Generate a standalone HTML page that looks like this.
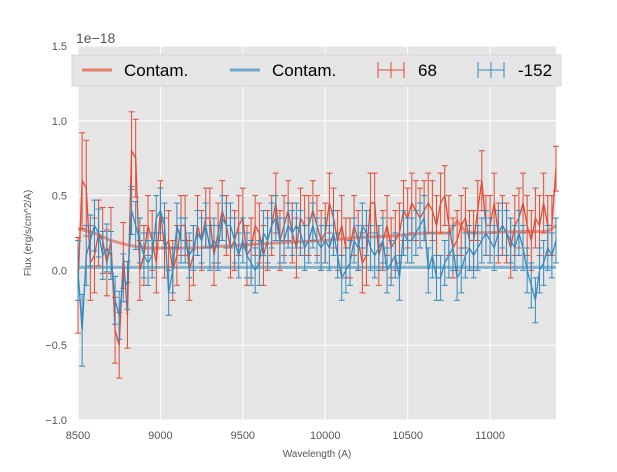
<!DOCTYPE html>
<html><head><meta charset="utf-8"><style>
body{margin:0;background:#fff;font-family:"Liberation Sans",sans-serif}
svg text{font-family:"Liberation Sans",sans-serif}
</style></head><body>
<svg id="chart" width="617" height="467">
<rect x="78" y="46" width="478" height="374" fill="#e5e5e5"/>
<g id="grid"></g><g id="marks"></g><g id="axes"></g>
<text x="76" y="43" font-size="14" fill="#555">1e−18</text>
<text transform="translate(31,233) rotate(-90)" text-anchor="middle" font-size="10" fill="#555">Flux (erg/s/cm^2/A)</text>
<text x="317" y="457" text-anchor="middle" font-size="10" fill="#555">Wavelength (A)</text>
<g>
<rect x="72" y="55" width="489" height="31" fill="#e5e5e5" stroke="#d8d8d8"/>
<g><line x1="82" y1="70" x2="112" y2="70" stroke="#e8806c" stroke-width="3"/><text x="124" y="76" font-size="17">Contam.</text></g>
<g><line x1="230" y1="70" x2="260" y2="70" stroke="#6fa8cf" stroke-width="3"/><text x="272" y="76" font-size="17">Contam.</text></g>
<g stroke="#e24a33" fill="none"><line x1="378" y1="70" x2="404" y2="70"/><line x1="391" y1="62" x2="391" y2="78"/><line x1="378" y1="62" x2="378" y2="78"/><line x1="404" y1="62" x2="404" y2="78"/><text x="418" y="76" font-size="17" fill="#000" stroke="none">68</text></g>
<g stroke="#348abd" fill="none"><line x1="478" y1="70" x2="504" y2="70"/><line x1="491" y1="62" x2="491" y2="78"/><line x1="478" y1="62" x2="478" y2="78"/><line x1="504" y1="62" x2="504" y2="78"/><text x="518" y="76" font-size="17" fill="#000" stroke="none">-152</text></g>
</g>
</svg>
<script>
const waveStart=8500;
const waveStep=25;
const red=[-0.1,0.6,0.55,0.05,0.1,0.25,0.2,0.05,0.2,-0.4,
-0.5,0.1,-0.3,0.8,0.75,0.0,0.1,0.3,0.2,0.05,
0.4,0.15,0.2,0.0,0.1,0.3,0.3,0.0,0.1,0.3,
0.2,0.35,0.35,0.1,0.25,0.4,0.3,0.15,0.2,0.3,
0.35,0.1,0.15,0.3,0.25,0.1,0.2,0.3,0.45,0.2,
0.3,0.4,0.25,0.15,0.35,0.3,0.3,0.4,0.3,0.2,
0.25,0.45,0.35,0.2,0.3,0.15,0.15,0.3,0.2,0.05,
0.1,0.45,0.45,0.1,0.2,0.3,0.15,0.2,0.25,0.4,
0.35,0.45,0.4,0.35,0.4,0.45,0.4,0.3,0.45,0.5,
0.3,0.15,0.2,0.3,0.35,0.2,0.2,0.4,0.6,0.3,
0.3,0.45,0.25,0.3,0.25,0.15,0.3,0.35,0.45,0.3,
0.2,0.35,0.3,0.45,0.3,0.3,0.68];
const blue=[0.0,-0.4,0.1,0.2,0.3,0.25,0.1,0.15,0.1,-0.2,
-0.3,-0.05,-0.1,0.4,0.3,0.2,0.1,0.05,0.1,0.35,
0.4,0.3,-0.15,0.0,0.3,0.2,0.2,0.1,0.15,0.25,
0.2,0.3,0.15,0.2,0.15,0.35,0.3,0.3,0.2,0.1,
0.2,0.1,0.05,0.0,0.05,0.25,0.2,0.3,0.35,0.2,
0.2,0.3,0.25,0.3,0.25,0.15,0.2,0.3,0.2,0.15,
0.2,0.15,0.25,0.1,-0.05,0.0,0.05,0.2,0.15,0.3,
0.25,0.15,0.1,0.15,0.2,0.0,0.05,0.1,-0.05,0.25,
0.2,0.2,0.25,0.3,0.35,0.0,0.1,-0.05,-0.05,0.05,
0.1,0.15,-0.05,0.0,0.1,0.15,0.1,0.15,0.2,0.25,
0.2,0.15,0.25,0.3,0.25,0.2,0.15,0.25,0.15,0.0,
-0.1,-0.2,0.0,0.05,0.15,0.1,0.2];
const redErr=[0.32,0.32,0.32,0.25,0.25,0.22,0.22,0.22,0.22,0.22,
0.22,0.22,0.22,0.26,0.26,0.2,0.2,0.2,0.2,0.2,
0.2,0.2,0.2,0.2,0.2,0.2,0.2,0.2,0.2,0.2,
0.2,0.2,0.2,0.2,0.2,0.2,0.2,0.2,0.2,0.2,
0.2,0.2,0.2,0.2,0.2,0.2,0.2,0.2,0.2,0.2,
0.2,0.2,0.2,0.2,0.2,0.2,0.2,0.2,0.2,0.2,
0.2,0.2,0.2,0.2,0.2,0.2,0.2,0.2,0.2,0.2,
0.2,0.2,0.2,0.2,0.2,0.2,0.2,0.2,0.2,0.2,
0.2,0.2,0.2,0.2,0.2,0.2,0.2,0.2,0.2,0.2,
0.2,0.2,0.2,0.2,0.2,0.2,0.2,0.2,0.2,0.2,
0.2,0.2,0.2,0.2,0.2,0.2,0.2,0.2,0.2,0.2,
0.2,0.2,0.2,0.2,0.2,0.2,0.15];
const blueErr=[0.2,0.24,0.2,0.17,0.17,0.16,0.16,0.16,0.16,0.16,
0.16,0.16,0.16,0.16,0.16,0.15,0.15,0.15,0.15,0.15,
0.15,0.15,0.15,0.15,0.15,0.15,0.15,0.15,0.15,0.15,
0.15,0.15,0.15,0.15,0.15,0.15,0.15,0.15,0.15,0.15,
0.15,0.15,0.15,0.15,0.15,0.15,0.15,0.15,0.15,0.15,
0.15,0.15,0.15,0.15,0.15,0.15,0.15,0.15,0.15,0.15,
0.15,0.15,0.15,0.15,0.15,0.15,0.15,0.15,0.15,0.15,
0.15,0.15,0.15,0.15,0.15,0.15,0.15,0.15,0.15,0.15,
0.15,0.15,0.15,0.15,0.15,0.15,0.15,0.15,0.15,0.15,
0.15,0.15,0.15,0.15,0.15,0.15,0.15,0.15,0.15,0.15,
0.15,0.15,0.15,0.15,0.15,0.15,0.15,0.15,0.15,0.15,
0.15,0.15,0.15,0.15,0.15,0.15,0.15];
const contamWave=[8500,8600,8700,8800,8900,9000,9200,9500,9800,10000,10200,10400,10600,10750,10800,10850,10900,11200,11350,11400];
const contamRed=[0.28,0.25,0.2,0.17,0.15,0.15,0.15,0.17,0.19,0.2,0.22,0.23,0.25,0.25,0.33,0.26,0.25,0.26,0.26,0.3];
const contamBlue=[0.02,0.02,0.02,0.02,0.02,0.02,0.02,0.02,0.02,0.02,0.02,0.02,0.02,0.02,0.02,0.02,0.02,0.02,0.02,0.02];
const xTicks=[8500,9000,9500,10000,10500,11000];
const yTicks=[-1.0,-0.5,0.0,0.5,1.0,1.5];
const yTickLabels=["−1.0","−0.5","0.0","0.5","1.0","1.5"];

const wave=red.map((_,i)=>waveStart+i*waveStep);
const X=w=>78+(w-8500)*(478/2900);
const Y=v=>270.4-v*149.6;
const NS='http://www.w3.org/2000/svg';
function mk(p,t,a){const e=document.createElementNS(NS,t);for(const k in a)e.setAttribute(k,a[k]);p.appendChild(e);return e;}
const grid=document.getElementById('grid'),marks=document.getElementById('marks'),axes=document.getElementById('axes');
xTicks.forEach(t=>{
 const l=mk(grid,'line',{x1:X(t),x2:X(t),y1:46,y2:420,stroke:'#fff','stroke-width':1});
 
 
 const tx=mk(axes,'text',{x:X(t),y:439,'text-anchor':'middle','font-size':11,fill:'#555'});tx.textContent=t;
 
 
});
yTicks.forEach((t,i)=>{
 const l=mk(grid,'line',{x1:78,x2:556,y1:Y(t),y2:Y(t),stroke:'#fff','stroke-width':1});
 
 
 const tx=mk(axes,'text',{x:67,y:Y(t)+4,'text-anchor':'end','font-size':11,fill:'#555'});tx.textContent=yTickLabels[i];
 
 
});
function line(xs,ys,col,w,op,name){
 const p=mk(marks,'polyline',{points:xs.map((x,i)=>X(x)+','+Y(ys[i])).join(' '),fill:'none',stroke:col,'stroke-width':w,opacity:op});
 
 
}
function errs(vals,err,col,name){
 const g=mk(marks,'g',{stroke:col,'stroke-width':1});
 
 
 wave.forEach((w,i)=>{const x=X(w),a=Y(vals[i]+err[i]),b=Y(vals[i]-err[i]);
  mk(g,'line',{x1:x,x2:x,y1:a,y2:b});mk(g,'line',{x1:x-3,x2:x+3,y1:a,y2:a});mk(g,'line',{x1:x-3,x2:x+3,y1:b,y2:b});});
}
line(contamWave,contamBlue,'#348abd',3,0.55,'contam-blue-line');
line(contamWave,contamRed,'#e24a33',3,0.55,'contam-red-line');
errs(red,redErr,'#e24a33','errorbars-68');
line(wave,red,'#e24a33',1.3,1,'series-68');
errs(blue,blueErr,'#348abd','errorbars-neg152');
line(wave,blue,'#348abd',1.3,1,'series-neg152');
</script>
</body></html>
